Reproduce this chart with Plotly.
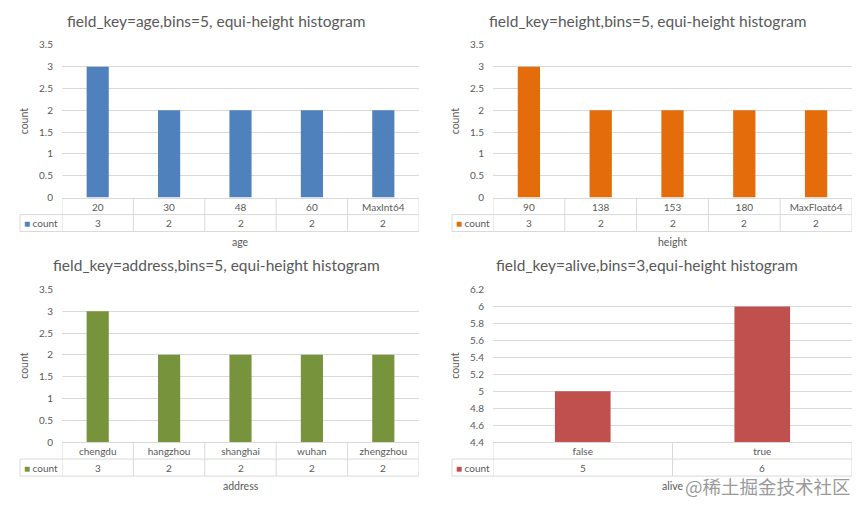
import plotly.graph_objects as go

W, H = 865, 508

# ---- data ----
titles = [
    "field_key=age,bins=5, equi-height histogram",
    "field_key=height,bins=5, equi-height histogram",
    "field_key=address,bins=5, equi-height histogram",
    "field_key=alive,bins=3,equi-height histogram",
]
age_bins = ["20", "30", "48", "60", "MaxInt64"]
age_counts = [3, 2, 2, 2, 2]
height_bins = ["90", "138", "153", "180", "MaxFloat64"]
height_counts = [3, 2, 2, 2, 2]
address_bins = ["chengdu", "hangzhou", "shanghai", "wuhan", "zhengzhou"]
address_counts = [3, 2, 2, 2, 2]
alive_bins = ["false", "true"]
alive_counts = [5, 6]
x_titles = ["age", "height", "address", "alive"]
series_name = "count"
colors = ["#4F81BD", "#E46C0A", "#77933C", "#C0504D"]
y_ranges = [[0, 3.5], [0, 3.5], [0, 3.5], [4.4, 6.2]]
y_dticks = [0.5, 0.5, 0.5, 0.2]

cats = [age_bins, height_bins, address_bins, alive_bins]
vals = [age_counts, height_counts, address_counts, alive_counts]

# panel geometry in target-image pixels
geo = [
    dict(L=62, R=419, T=44, B=197, r1=214, r2=231, leg=20, ty=20, xty=241, ytx=24, tx=216),
    dict(L=493, R=852, T=44, B=197, r1=214, r2=231, leg=452, ty=20, xty=241, ytx=455, tx=647),
    dict(L=62, R=419, T=289, B=442, r1=459, r2=476, leg=20, ty=265, xty=486, ytx=24, tx=216),
    dict(L=493, R=852, T=289, B=442, r1=459, r2=476, leg=452, ty=265, xty=486, ytx=455, tx=647),
]

def px(x):
    return x / W

def py(y):
    # compensate the slight vertical squeeze of the photographed page
    yf = (y - 5) * H / 498.0
    return 1 - yf / H

FONT = "Lato"
GRAY = "#595959"
LINE = "#D9D9D9"

fig = go.Figure()
shapes = []
annotations = []

for i in range(4):
    g = geo[i]
    n = i + 1
    sfx = "" if n == 1 else str(n)
    fig.add_trace(go.Bar(
        x=cats[i], y=vals[i], name=series_name,
        marker=dict(color=colors[i], line=dict(width=0)),
        width=0.31, xaxis="x" + sfx, yaxis="y" + sfx, showlegend=False,
    ))
    fig.update_layout(**{
        "xaxis" + sfx: dict(
            domain=[px(g["L"]), px(g["R"])], anchor="y" + sfx,
            type="category", range=[-0.5, len(cats[i]) - 0.5],
            showgrid=False, zeroline=False, showline=True, linecolor=LINE, linewidth=1,
            ticks="", tickfont=dict(family=FONT, size=10, color=GRAY),
            fixedrange=True,
        ),
        "yaxis" + sfx: dict(
            domain=[py(g["B"]), py(g["T"])], anchor="x" + sfx,
            range=y_ranges[i], dtick=y_dticks[i], tick0=y_ranges[i][0],
            showgrid=True, gridcolor=LINE, gridwidth=1, zeroline=False, showline=False,
            ticks="", ticklabelstandoff=8,
            tickfont=dict(family=FONT, size=10, color=GRAY),
            fixedrange=True,
        ),
    })
    xr = "x" + sfx
    # table lines
    for yy in (g["r1"], g["r2"]):
        shapes.append(dict(type="line", xref="paper", yref="paper",
                           x0=px(g["leg"]), x1=px(g["R"]), y0=py(yy), y1=py(yy),
                           line=dict(color=LINE, width=1)))
    shapes.append(dict(type="line", xref="paper", yref="paper",
                       x0=px(g["leg"]), x1=px(g["leg"]), y0=py(g["r1"]), y1=py(g["r2"]),
                       line=dict(color=LINE, width=1)))
    for k in range(len(cats[i]) + 1):
        shapes.append(dict(type="line", xref=xr, yref="paper",
                           x0=k - 0.5, x1=k - 0.5, y0=py(g["B"]), y1=py(g["r2"]),
                           line=dict(color=LINE, width=1)))
    # table values row (category index positions on the category axis)
    for k, v in enumerate(vals[i]):
        annotations.append(dict(xref=xr, yref="paper", x=k, y=py((g["r1"] + g["r2"]) / 2),
                                text=str(v), showarrow=False,
                                font=dict(family=FONT, size=10, color=GRAY),
                                xanchor="center", yanchor="middle"))
    # legend key cell
    annotations.append(dict(xref="paper", yref="paper", x=px((g["leg"] + g["L"]) / 2),
                            y=py((g["r1"] + g["r2"]) / 2),
                            text='<span style="color:%s">■</span> %s' % (colors[i], series_name),
                            showarrow=False, font=dict(family=FONT, size=10, color=GRAY),
                            xanchor="center", yanchor="middle"))
    # titles
    annotations.append(dict(xref="paper", yref="paper", x=px(g["tx"]), y=py(g["ty"]),
                            text=titles[i], showarrow=False,
                            font=dict(family=FONT, size=15.5, color=GRAY),
                            xanchor="center", yanchor="middle"))
    annotations.append(dict(xref="paper", yref="paper", x=px((g["L"] + g["R"]) / 2), y=py(g["xty"]),
                            text=x_titles[i], showarrow=False,
                            font=dict(family=FONT, size=10.5, color=GRAY),
                            xanchor="center", yanchor="middle"))
    annotations.append(dict(xref="paper", yref="paper", x=px(g["ytx"]), y=py((g["T"] + g["B"]) / 2),
                            text=series_name, showarrow=False, textangle=-90,
                            font=dict(family=FONT, size=10.5, color=GRAY),
                            xanchor="center", yanchor="middle"))

# watermark
annotations.append(dict(xref="paper", yref="paper", x=px(768), y=py(486),
                        text="@稀土掘金技术社区", showarrow=False,
                        font=dict(family="Noto Sans CJK SC", size=18.5, color="#9A9A9A"),
                        xanchor="center", yanchor="middle"))

fig.update_layout(
    width=W, height=H, margin=dict(l=0, r=0, t=0, b=0),
    paper_bgcolor="white", plot_bgcolor="white",
    shapes=shapes, annotations=annotations, showlegend=False,
    font=dict(family=FONT, color=GRAY),
)

page_js = (
    "var s=document.createElement('style');"
    "s.textContent='html,body{margin:0;padding:0;width:865px;height:508px;overflow:hidden;}';"
    "document.head.appendChild(s);"
)
fig.write_html("out.html", config={"displayModeBar": False}, post_script=page_js)
